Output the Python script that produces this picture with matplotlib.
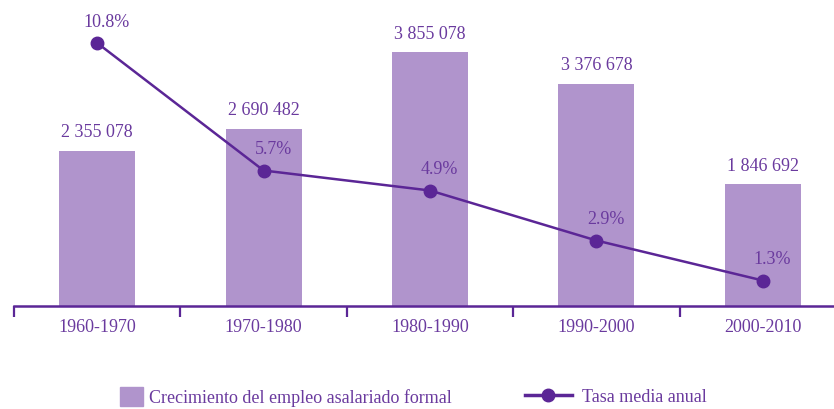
import matplotlib.pyplot as plt
import matplotlib.patches as mpatches
import matplotlib.lines as mlines
import numpy as np

periods = ["1960-1970", "1970-1980", "1980-1990", "1990-2000", "2000-2010"]
empleo = [2355078, 2690482, 3855078, 3376678, 1846692]
tasa = [10.8, 5.7, 4.9, 2.9, 1.3]

BAR_COLOR = "#B094CC"
LINE_COLOR = "#5B2696"
TEXT_COLOR = "#6A3A9E"

plt.rcParams["font.family"] = ["Liberation Serif", "DejaVu Serif"]


def fmt_thousands(v):
    return f"{v:,}".replace(",", " ")


def main():
    fig = plt.figure(figsize=(8.34, 4.09), dpi=100)
    W, H = 834, 409
    # axes: left edge at px 14, baseline at px 306, top at px 0
    ax = fig.add_axes([14 / W, (H - 306) / H, 832 / W, 306 / H])
    x = np.arange(len(periods))

    ax.bar(x, empleo, width=0.456, color=BAR_COLOR, zorder=2)
    for xi, v in zip(x, empleo):
        ax.annotate(fmt_thousands(v), (xi, v), xytext=(0, 7), textcoords="offset points",
                    ha="center", va="bottom", fontsize=13, color=TEXT_COLOR)

    ax.set_xlim(-0.5, 4.5)
    ax.set_ylim(0, 4.65e6)
    ax.set_yticks([])
    for s in ["top", "right", "left"]:
        ax.spines[s].set_visible(False)
    ax.spines["bottom"].set_color(LINE_COLOR)
    ax.spines["bottom"].set_linewidth(1.8)
    ax.set_xticks(np.arange(-0.5, 5, 1.0))
    ax.set_xticklabels([])
    ax.set_xticks(x, minor=True)
    ax.set_xticklabels(periods, minor=True, fontsize=13, color=TEXT_COLOR)
    ax.tick_params(axis="x", which="major", length=8, width=1.6, color=LINE_COLOR, direction="out")
    ax.tick_params(axis="x", which="minor", length=0, pad=9)

    ax2 = ax.twinx()
    ax2.plot(x, tasa, color=LINE_COLOR, linewidth=1.8, marker="o", markersize=9, zorder=3)
    for xi, v in zip(x, tasa):
        ax2.annotate(f"{v}%", (xi, v), xytext=(7, 15), textcoords="offset points",
                     ha="center", va="center", fontsize=13, color=TEXT_COLOR)
    ax2.set_ylim(0.28, 12.52)
    ax2.set_yticks([])
    for s in ["top", "right", "left", "bottom"]:
        ax2.spines[s].set_visible(False)

    # legend
    bar_handle = mpatches.Patch(color=BAR_COLOR)
    line_handle = mlines.Line2D([], [], color=LINE_COLOR, linewidth=2.5, marker="o", markersize=9)
    fig.legend([bar_handle], ["Crecimiento del empleo asalariado formal"], loc="center left",
               bbox_to_anchor=(120 / W, 1 - 397 / H), frameon=False, fontsize=13,
               borderpad=0, borderaxespad=0, handlelength=1.25, handleheight=1.25,
               handletextpad=0.35, labelcolor=TEXT_COLOR)
    fig.legend([line_handle], ["Tasa media anual"], loc="center left",
               bbox_to_anchor=(525 / W, 1 - 397 / H), frameon=False, fontsize=13,
               borderpad=0, borderaxespad=0, handlelength=2.6,
               handletextpad=0.55, labelcolor=TEXT_COLOR)

    fig.savefig("out.png", dpi=100)
    plt.close(fig)


if __name__ == "__main__":
    main()
